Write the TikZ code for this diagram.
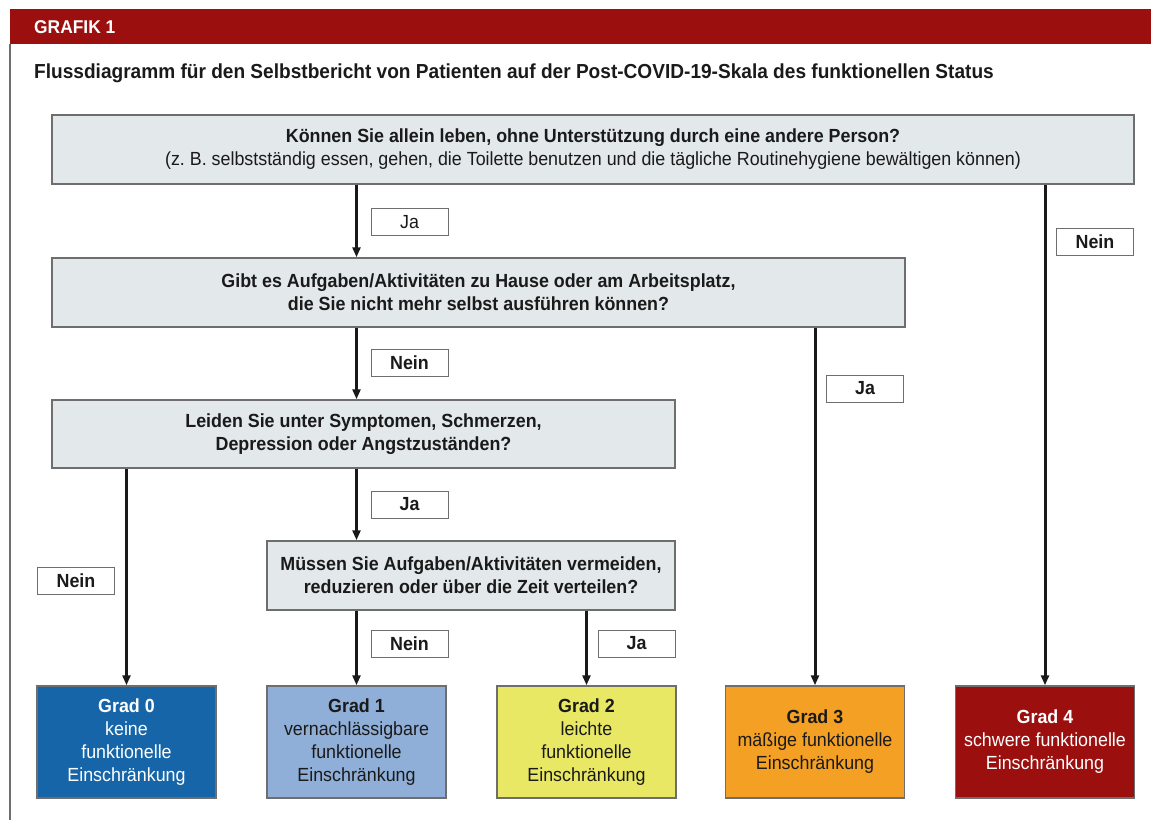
\documentclass[tikz,border=0pt]{standalone}
\usepackage{fontspec}
\setmainfont{Liberation Sans}[FakeStretch=0.94]
\usetikzlibrary{arrows.meta}
\definecolor{hdrred}{HTML}{9B0F0F}
\definecolor{qfill}{HTML}{E3E8EA}
\definecolor{bordergray}{HTML}{6E6E6E}
\definecolor{txt}{HTML}{1A1A1A}
\definecolor{g0col}{HTML}{1565A8}
\definecolor{g1col}{HTML}{8FAFD8}
\definecolor{g2col}{HTML}{E8E864}
\definecolor{g3col}{HTML}{F4A024}
\definecolor{g4col}{HTML}{9B0F0F}
\tikzset{
  qbox/.style={draw=bordergray, line width=1.5pt, fill=qfill, align=center, text=txt,
    font=\fontsize{19}{23}\selectfont\bfseries, inner sep=0pt},
  gbox/.style={draw=bordergray, line width=1.5pt, align=center,
    minimum width=179pt, minimum height=112pt, inner sep=0pt,
    font=\fontsize{19}{23}\selectfont},
  lbl/.style={draw=bordergray, line width=1pt, fill=white, text=txt,
    minimum width=77pt, minimum height=27pt, inner sep=0pt,
    font=\fontsize{19}{20}\selectfont\bfseries},
  arr/.style={line width=3pt, draw=black!90, -{Triangle[width=8pt,length=10pt]}}
}
\begin{document}
\begin{tikzpicture}[x=1pt,y=-1pt]
\useasboundingbox (0,0) rectangle (1151,820);
% header
\fill[hdrred] (10,9) rectangle (1151,44);
\draw[bordergray, line width=2pt] (10,44) -- (10,820);
\node[anchor=west, text=white, font=\fontsize{18.5}{20}\selectfont\bfseries, inner sep=0pt] (hdr) at (34,27.5) {GRAFIK 1};
\node[anchor=west, text=txt, font=\fontsize{20.3}{22}\selectfont\bfseries, inner sep=0pt] (title) at (34,73)
  {Flussdiagramm für den Selbstbericht von Patienten auf der Post-COVID-19-Skala des funktionellen Status};
% question boxes
\node[qbox, minimum width=1082pt, minimum height=69pt] (q1) at (593,149.5)
  {Können Sie allein leben, ohne Unterstützung durch eine andere Person?\\
   {\mdseries (z.\ B.\ selbstständig essen, gehen, die Toilette benutzen und die tägliche Routinehygiene bewältigen können)}};
\node[qbox, minimum width=853pt, minimum height=69pt] (q2) at (478.5,292.5)
  {Gibt es Aufgaben/Aktivitäten zu Hause oder am Arbeitsplatz,\\die Sie nicht mehr selbst ausführen können?};
\node[qbox, minimum width=623pt, minimum height=68pt] (q3) at (363.5,434)
  {Leiden Sie unter Symptomen, Schmerzen,\\Depression oder Angstzuständen?};
\node[qbox, minimum width=408pt, minimum height=69pt] (q4) at (471,575.5)
  {Müssen Sie Aufgaben/Aktivitäten vermeiden,\\reduzieren oder über die Zeit verteilen?};
% grade boxes
\node[gbox, fill=g0col, text=white] (g0) at (126.5,742) {\textbf{Grad 0}\\keine\\funktionelle\\Einschränkung};
\node[gbox, fill=g1col, text=txt] (g1) at (356.5,742) {\textbf{Grad 1}\\vernachlässigbare\\funktionelle\\Einschränkung};
\node[gbox, fill=g2col, text=txt] (g2) at (586.5,742) {\textbf{Grad 2}\\leichte\\funktionelle\\Einschränkung};
\node[gbox, fill=g3col, text=txt] (g3) at (815,742) {\textbf{Grad 3}\\mäßige funktionelle\\Einschränkung};
\node[gbox, fill=g4col, text=white] (g4) at (1045,742) {\textbf{Grad 4}\\schwere funktionelle\\Einschränkung};
% arrows
\draw[arr] (q1.south -| g1.north) -- (q2.north -| g1.north);
\draw[arr] (q1.south -| g4.north) -- (g4.north);
\draw[arr] (q2.south -| g1.north) -- (q3.north -| g1.north);
\draw[arr] (q2.south -| g3.north) -- (g3.north);
\draw[arr] (q3.south -| g0.north) -- (g0.north);
\draw[arr] (q3.south -| g1.north) -- (q4.north -| g1.north);
\draw[arr] (q4.south -| g1.north) -- (g1.north);
\draw[arr] (q4.south -| g2.north) -- (g2.north);
% labels
\node[lbl, font=\fontsize{19}{20}\selectfont] (l1) at (409.5,222) {Ja};
\node[lbl] (l2) at (1095,242) {Nein};
\node[lbl] (l3) at (409.5,363) {Nein};
\node[lbl] (l4) at (865,388.5) {Ja};
\node[lbl] (l5) at (76,580.5) {Nein};
\node[lbl] (l6) at (409.5,504.5) {Ja};
\node[lbl] (l7) at (409.5,643.5) {Nein};
\node[lbl] (l8) at (636.5,643.5) {Ja};
\end{tikzpicture}
\end{document}
